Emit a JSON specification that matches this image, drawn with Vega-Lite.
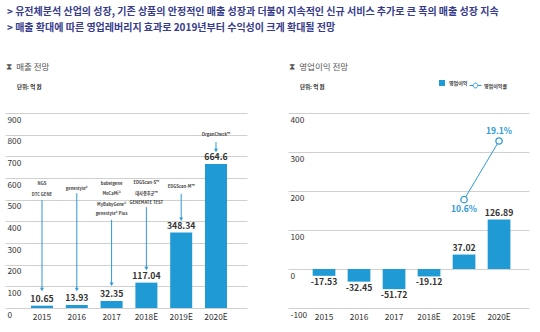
{
  "$schema": "https://vega.github.io/schema/vega-lite/v6.json",
  "background": "white",
  "padding": {"left": 5, "top": 7, "right": 5, "bottom": 3},
  "config": {
    "font": "Noto Sans CJK KR",
    "view": {"stroke": null},
    "locale": {"number": {"decimal": ".", "thousands": ",", "grouping": [3], "currency": ["", ""], "minus": "-"}},
    "axis": {"labelFont": "Noto Sans CJK KR", "labelColor": "#333", "labelFontSize": 8.3, "ticks": false, "tickSize": 0, "domain": false, "gridColor": "#d0d0d0", "gridWidth": 1},
    "legend": {"labelFont": "Noto Sans CJK KR", "labelFontSize": 5, "labelColor": "#333", "labelFontWeight": "bold", "padding": 0}
  },
  "title": {
    "text": ["> 유전체분석 산업의 성장, 기존 상품의 안정적인 매출 성장과 더불어 지속적인 신규 서비스 추가로 큰 폭의 매출 성장 지속", "> 매출 확대에 따른 영업레버리지 효과로 2019년부터  수익성이 크게 확대될 전망"],
    "anchor": "start", "fontSize": 10, "fontWeight": "bold", "color": "#363b8c", "lineHeight": 16, "offset": 30, "dx": 2, "font": "Noto Sans CJK KR"
  },
  "datasets": {
    "sales": [
      {"year": "2015", "sales": 10.65},
      {"year": "2016", "sales": 13.93},
      {"year": "2017", "sales": 32.35},
      {"year": "2018E", "sales": 117.04},
      {"year": "2019E", "sales": 348.34},
      {"year": "2020E", "sales": 664.6}
    ],
    "arrows": [
      {"year": "2015", "from": 498, "to": 85},
      {"year": "2016", "from": 530, "to": 85},
      {"year": "2017", "from": 407, "to": 110},
      {"year": "2018E", "from": 466, "to": 182},
      {"year": "2019E", "from": 527, "to": 410},
      {"year": "2020E", "from": 766, "to": 727}
    ],
    "logos": [
      {"year": "2015", "value": 572, "name": "NGS"},
      {"year": "2015", "value": 521, "name": "DTC GENE"},
      {"year": "2016", "value": 549, "name": "genestyle®"},
      {"year": "2017", "value": 572, "name": "babelgene"},
      {"year": "2017", "value": 526, "name": "MoCaMi®"},
      {"year": "2017", "value": 475, "name": "MyBabyGene®"},
      {"year": "2017", "value": 434, "name": "genestyle® Plus"},
      {"year": "2018E", "value": 577, "name": "EDGScan-S™"},
      {"year": "2018E", "value": 526, "name": "대사증후군™"},
      {"year": "2018E", "value": 485, "name": "GENEMATE TEST"},
      {"year": "2019E", "value": 558, "name": "EDGScan-M™"},
      {"year": "2020E", "value": 798, "name": "OrganCheck™"}
    ],
    "profit": [
      {"year": "2015", "profit": -17.53},
      {"year": "2016", "profit": -32.45},
      {"year": "2017", "profit": -51.72},
      {"year": "2018E", "profit": -19.12},
      {"year": "2019E", "profit": 37.02},
      {"year": "2020E", "profit": 126.89}
    ],
    "margin": [
      {"year": "2019E", "margin": 10.6, "label": "10.6%"},
      {"year": "2020E", "margin": 19.1, "label": "19.1%"}
    ]
  },
  "spacing": 41,
  "resolve": {"legend": {"color": "independent", "stroke": "independent"}},
  "hconcat": [
    {
      "width": 242, "height": 195,
      "title": {"text": "⧗\u2002매출 전망", "subtitle": "\u200b\u2003\u2003단위: 억 원", "anchor": "start", "dx": 1, "fontSize": 8.5, "fontWeight": "normal", "color": "#555", "subtitleFontSize": 5.5, "subtitleFontWeight": "bold", "subtitleColor": "#222", "subtitlePadding": 13, "offset": 23},
      "encoding": {
        "x": {"field": "year", "type": "ordinal", "scale": {"domain": ["2015", "2016", "2017", "2018E", "2019E", "2020E"], "paddingInner": 0.368, "paddingOuter": 0.661, "align": 0.565}, "axis": {"labelAngle": 0, "labelPadding": 4, "title": null}}
      },
      "layer": [
        {
          "data": {"name": "sales"},
          "mark": {"type": "bar", "color": "#1f9ad4"},
          "encoding": {
            "y": {"field": "sales", "type": "quantitative", "scale": {"domain": [0, 900]}, "axis": {"values": [0, 100, 200, 300, 400, 500, 600, 700, 800, 900], "grid": true, "labelAlign": "left", "labelBaseline": "top", "labelPadding": -2, "labelOffset": 2, "title": null}}
          }
        },
        {
          "data": {"name": "sales"},
          "mark": {"type": "text", "baseline": "bottom", "dy": -2, "fontWeight": "bold", "fontSize": 8.7, "color": "#333"},
          "encoding": {
            "y": {"field": "sales", "type": "quantitative", "scale": {"domain": [0, 900]}, "axis": {"values": [0, 100, 200, 300, 400, 500, 600, 700, 800, 900], "grid": true, "labelAlign": "left", "labelBaseline": "top", "labelPadding": -2, "labelOffset": 2, "title": null}},
            "text": {"field": "sales", "type": "quantitative", "format": ".2~f"}
          }
        },
        {
          "data": {"name": "arrows"},
          "mark": {"type": "rule", "color": "#2e9ad6", "strokeWidth": 1},
          "encoding": {
            "y": {"field": "from", "type": "quantitative", "scale": {"domain": [0, 900]}, "axis": {"values": [0, 100, 200, 300, 400, 500, 600, 700, 800, 900], "grid": true, "labelAlign": "left", "labelBaseline": "top", "labelPadding": -2, "labelOffset": 2, "title": null}},
            "y2": {"field": "to"}
          }
        },
        {
          "data": {"name": "arrows"},
          "mark": {"type": "point", "shape": "triangle-down", "filled": true, "color": "#2e9ad6", "size": 16, "opacity": 1},
          "encoding": {
            "y": {"field": "to", "type": "quantitative", "scale": {"domain": [0, 900]}, "axis": {"values": [0, 100, 200, 300, 400, 500, 600, 700, 800, 900], "grid": true, "labelAlign": "left", "labelBaseline": "top", "labelPadding": -2, "labelOffset": 2, "title": null}}
          }
        },
        {
          "data": {"name": "logos"},
          "mark": {"type": "text", "fontSize": 4.2, "fontWeight": "bold", "color": "#444", "baseline": "middle"},
          "encoding": {
            "y": {"field": "value", "type": "quantitative", "scale": {"domain": [0, 900]}, "axis": {"values": [0, 100, 200, 300, 400, 500, 600, 700, 800, 900], "grid": true, "labelAlign": "left", "labelBaseline": "top", "labelPadding": -2, "labelOffset": 2, "title": null}},
            "text": {"field": "name"}
          }
        }
      ]
    },
    {
      "width": 241, "height": 195,
      "title": {"text": "⧗\u2002영업이익 전망", "subtitle": "\u200b\u2003\u2003단위: 억 원", "anchor": "start", "dx": 1, "fontSize": 8.5, "fontWeight": "normal", "color": "#555", "subtitleFontSize": 5.5, "subtitleFontWeight": "bold", "subtitleColor": "#222", "subtitlePadding": 13, "offset": -11},
      "encoding": {
        "x": {"field": "year", "type": "ordinal", "scale": {"domain": ["2015", "2016", "2017", "2018E", "2019E", "2020E"], "paddingInner": 0.351, "paddingOuter": 0.618, "align": 0.57}, "axis": {"labelAngle": 0, "labelPadding": 4, "title": null}}
      },
      "resolve": {"scale": {"y": "independent"}},
      "layer": [
        {
          "layer": [
            {
              "data": {"name": "profit"},
              "mark": {"type": "bar"},
              "encoding": {
                "y": {"field": "profit", "type": "quantitative", "scale": {"domain": [-100, 400]}, "axis": {"values": [-100, 0, 100, 200, 300, 400], "grid": true, "labelAlign": "left", "labelBaseline": "top", "labelPadding": -2, "labelOffset": 2, "title": null}},
                "color": {"datum": "영업이익", "type": "nominal", "scale": {"range": ["#1f9ad4"]}, "legend": {"title": null, "orient": "none", "legendX": 150, "legendY": -34, "symbolType": "square", "symbolSize": 36, "labelOffset": 3}}
              }
            },
            {
              "data": {"name": "profit"},
              "transform": [{"filter": "datum.profit >= 0"}],
              "mark": {"type": "text", "baseline": "bottom", "dy": -2, "fontWeight": "bold", "fontSize": 8.7, "color": "#333"},
              "encoding": {
                "y": {"field": "profit", "type": "quantitative", "scale": {"domain": [-100, 400]}, "axis": {"values": [-100, 0, 100, 200, 300, 400], "grid": true, "labelAlign": "left", "labelBaseline": "top", "labelPadding": -2, "labelOffset": 2, "title": null}},
                "text": {"field": "profit", "type": "quantitative", "format": ".2f"}
              }
            },
            {
              "data": {"name": "profit"},
              "transform": [{"filter": "datum.profit < 0"}],
              "mark": {"type": "text", "baseline": "top", "dy": 2, "fontWeight": "bold", "fontSize": 8.7, "color": "#333"},
              "encoding": {
                "y": {"field": "profit", "type": "quantitative", "scale": {"domain": [-100, 400]}, "axis": {"values": [-100, 0, 100, 200, 300, 400], "grid": true, "labelAlign": "left", "labelBaseline": "top", "labelPadding": -2, "labelOffset": 2, "title": null}},
                "text": {"field": "profit", "type": "quantitative", "format": ".2f"}
              }
            }
          ]
        },
        {
          "data": {"name": "margin"},
          "layer": [
            {
              "mark": {"type": "line", "strokeWidth": 1},
              "encoding": {
                "y": {"field": "margin", "type": "quantitative", "scale": {"domain": [-5.1, 23.15]}, "axis": null},
                "stroke": {"datum": "영업이익률", "type": "nominal", "scale": {"range": ["#2e9ad6"]}, "legend": {"title": null, "orient": "none", "legendX": 181, "legendY": -34, "symbolType": "M-1,0H-0.4M0.4,0H1M-0.4,0A0.4,0.4 0 1,1 0.4,0A0.4,0.4 0 1,1 -0.4,0", "symbolSize": 144, "symbolStrokeWidth": 1, "symbolFillColor": "white", "labelOffset": 2}}
              }
            },
            {
              "mark": {"type": "point", "shape": "circle", "filled": true, "fill": "white", "stroke": "#2e9ad6", "strokeWidth": 1.3, "size": 40, "opacity": 1},
              "encoding": {
                "y": {"field": "margin", "type": "quantitative", "scale": {"domain": [-5.1, 23.15]}, "axis": null}
              }
            },
            {
              "transform": [{"filter": "datum.year == '2020E'"}],
              "mark": {"type": "text", "baseline": "bottom", "dy": -5, "fontWeight": "bold", "fontSize": 8.5, "color": "#2e9ad6"},
              "encoding": {
                "y": {"field": "margin", "type": "quantitative", "scale": {"domain": [-5.1, 23.15]}, "axis": null},
                "text": {"field": "label"}
              }
            },
            {
              "transform": [{"filter": "datum.year == '2019E'"}],
              "mark": {"type": "text", "baseline": "top", "dy": 5, "fontWeight": "bold", "fontSize": 8.5, "color": "#2e9ad6"},
              "encoding": {
                "y": {"field": "margin", "type": "quantitative", "scale": {"domain": [-5.1, 23.15]}, "axis": null},
                "text": {"field": "label"}
              }
            }
          ]
        }
      ]
    }
  ]
}
